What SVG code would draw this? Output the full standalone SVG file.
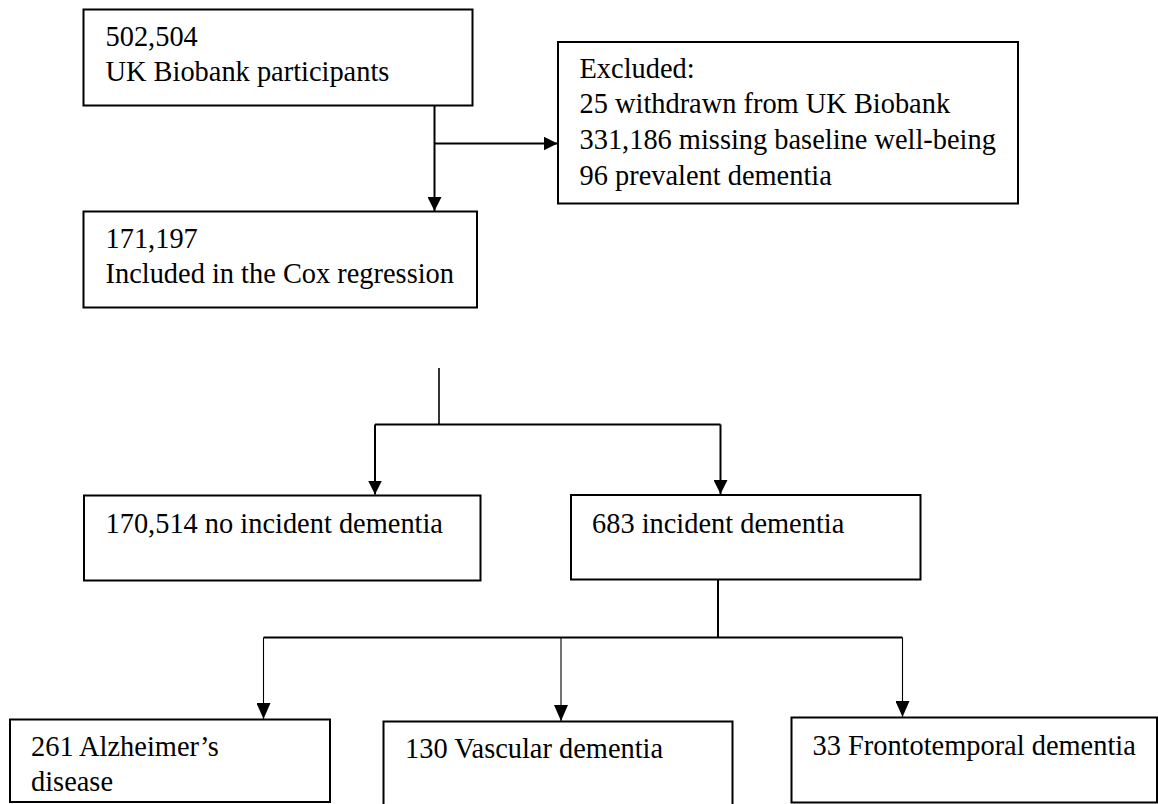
<svg xmlns="http://www.w3.org/2000/svg" width="1158" height="804" viewBox="0 0 1158 804">
<style>
.box{fill:#fff;stroke:#000;stroke-width:2}
.t{font-family:"Liberation Serif","Times New Roman",serif;font-size:28.4px;fill:#000}
.c{fill:none;stroke:#000;stroke-width:2}
.cm{fill:none;stroke:#000;stroke-width:1.6}
.cn{fill:none;stroke:#000;stroke-width:1.1}
</style>
<defs>
<marker id="ah" markerWidth="14" markerHeight="14" refX="14" refY="7" orient="auto" markerUnits="userSpaceOnUse">
<path d="M0,0 L14,7 L0,14 z" fill="#000"/>
</marker>
<marker id="ahs" markerWidth="16" markerHeight="14" refX="16" refY="7" orient="auto" markerUnits="userSpaceOnUse">
<path d="M0,0 L16,7 L0,14 z" fill="#000"/>
</marker>
</defs>
<rect width="1158" height="804" fill="#fff"/>
<g id="connectors">
<path class="c" d="M434.5,106 V211" marker-end="url(#ah)"/>
<path class="c" d="M434.5,143.5 H557.5" marker-end="url(#ah)"/>
<path class="cm" d="M439,368 V424.5"/>
<path class="c" d="M375,424.5 H720.5"/>
<path class="c" d="M375,424.5 V494.5" marker-end="url(#ah)"/>
<path class="c" d="M720.5,424.5 V494" marker-end="url(#ah)"/>
<path class="c" d="M718,580 V637.5"/>
<path class="c" d="M263.5,637.5 H902.5"/>
<path class="cn" d="M263.5,637.5 V719" marker-end="url(#ahs)"/>
<path class="cn" d="M561,637.5 V721" marker-end="url(#ahs)"/>
<path class="cn" d="M902.5,637.5 V717" marker-end="url(#ahs)"/>
</g>
<g id="n_total">
<rect class="box" x="83.5" y="9.5" width="389" height="96"/>
<text class="t" x="105.5" y="45.7">502,504</text>
<text class="t" x="105.5" y="81">UK Biobank participants</text>
</g>
<g id="n_excluded">
<rect class="box" x="558" y="42" width="460" height="161.5"/>
<text class="t" x="579.5" y="77.7">Excluded:</text>
<text class="t" x="579.5" y="113.3">25 withdrawn from UK Biobank</text>
<text class="t" x="579.5" y="149.3">331,186 missing baseline well-being</text>
<text class="t" x="579.5" y="184.5">96 prevalent dementia</text>
</g>
<g id="n_included">
<rect class="box" x="83.5" y="211.5" width="393.5" height="96"/>
<text class="t" x="105.5" y="248.3">171,197</text>
<text class="t" x="105.5" y="283.3">Included in the Cox regression</text>
</g>
<g id="n_noincident">
<rect class="box" x="84" y="495.5" width="396.5" height="85"/>
<text class="t" x="105.5" y="533.3">170,514 no incident dementia</text>
</g>
<g id="n_incident">
<rect class="box" x="571" y="495" width="349.5" height="84.5"/>
<text class="t" x="592" y="533.3">683 incident dementia</text>
</g>
<g id="n_alzheimer">
<rect class="box" x="10" y="719.5" width="320" height="82.5"/>
<text class="t" x="31" y="755.5">261 Alzheimer’s</text>
<text class="t" x="31" y="790.5">disease</text>
</g>
<g id="n_vascular">
<rect class="box" x="383.5" y="721.5" width="349" height="95"/>
<text class="t" x="405" y="758">130 Vascular dementia</text>
</g>
<g id="n_frontotemporal">
<rect class="box" x="791.5" y="717.5" width="365.5" height="85"/>
<text class="t" x="812.5" y="754.5">33 Frontotemporal dementia</text>
</g>
</svg>
